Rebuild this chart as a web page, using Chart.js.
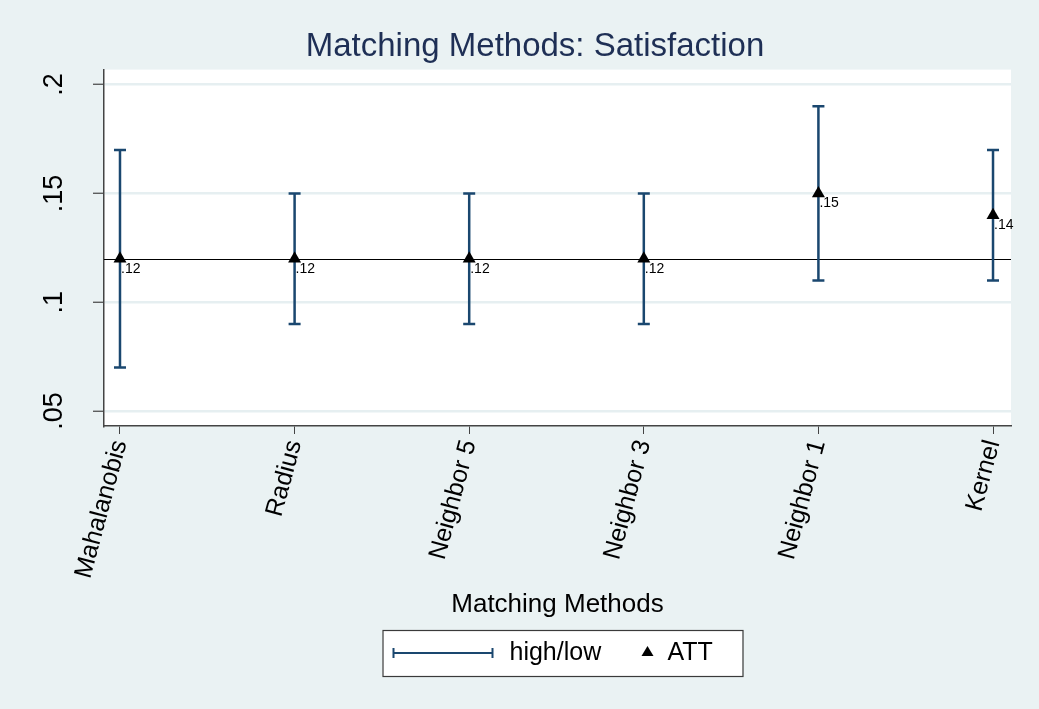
<!DOCTYPE html>
<html>
<head>
<meta charset="utf-8">
<script src="https://cdn.jsdelivr.net/npm/chart.js@4/dist/chart.umd.min.js"></script>
<style>
  html, body { margin: 0; padding: 0; background: #EAF2F3; }
  #wrap { width: 1039px; height: 709px; }
</style>
</head>
<body>
<div id="wrap"><canvas id="c" width="1039" height="709"></canvas></div>
<script>
// Matching methods and their estimates
const methods = ['Mahalanobis', 'Radius', 'Neighbor 5', 'Neighbor 3', 'Neighbor 1', 'Kernel'];
const att  = [0.12, 0.12, 0.12, 0.12, 0.15, 0.14];
const low  = [0.07, 0.09, 0.09, 0.09, 0.11, 0.11];
const high = [0.17, 0.15, 0.15, 0.15, 0.19, 0.17];
const yTickValues = [0.05, 0.10, 0.15, 0.20];
const refValue = 0.12;

const FONT = '"Liberation Sans", Arial, Helvetica, sans-serif';
const NAVY = '#1A476F';
const BG = '#EAF2F3';

// Stata-style decimal labels: .05, .1, .15 ...
const fmt = v => {
  const s = String(Math.round(v * 100) / 100);
  return s.startsWith('0.') ? s.slice(1) : s;
};

const decorPlugin = {
  id: 'decor',
  beforeDraw(chart) {
    const { ctx, chartArea: a } = chart;
    ctx.save();
    ctx.fillStyle = BG;
    ctx.fillRect(0, 0, chart.width, chart.height);
    ctx.fillStyle = '#FFFFFF';
    ctx.fillRect(a.left, a.top, a.right - a.left, a.bottom - a.top);
    ctx.restore();
  },
  beforeDatasetsDraw(chart) {
    const { ctx, chartArea: a, scales: { x, y } } = chart;
    ctx.save();
    // reference line at the common estimate
    const yr = Math.round(y.getPixelForValue(refValue)) + 0.5;
    ctx.strokeStyle = '#000';
    ctx.lineWidth = 1.2;
    ctx.beginPath();
    ctx.moveTo(a.left, yr);
    ctx.lineTo(a.right, yr);
    ctx.stroke();
    // high/low range bars with caps
    ctx.strokeStyle = NAVY;
    ctx.lineWidth = 2.5;
    const cap = 6;
    methods.forEach((m, i) => {
      const px = x.getPixelForValue(i);
      const pl = y.getPixelForValue(low[i]);
      const ph = y.getPixelForValue(high[i]);
      ctx.beginPath();
      ctx.moveTo(px, pl); ctx.lineTo(px, ph);
      ctx.moveTo(px - cap, pl); ctx.lineTo(px + cap, pl);
      ctx.moveTo(px - cap, ph); ctx.lineTo(px + cap, ph);
      ctx.stroke();
    });
    ctx.restore();
  },
  afterDraw(chart) {
    const { ctx, chartArea: a, scales: { x, y } } = chart;
    ctx.save();
    // marker value labels
    ctx.fillStyle = '#000';
    ctx.font = '14px ' + FONT;
    ctx.textAlign = 'left';
    ctx.textBaseline = 'middle';
    att.forEach((v, i) => {
      ctx.fillText(fmt(v), x.getPixelForValue(i) + 1, y.getPixelForValue(v) + 10);
    });
    // vertical y tick labels
    ctx.font = '27px ' + FONT;
    ctx.textAlign = 'center';
    ctx.textBaseline = 'middle';
    yTickValues.forEach(v => {
      ctx.save();
      ctx.translate(55, y.getPixelForValue(v));
      ctx.rotate(-Math.PI / 2);
      ctx.fillText(fmt(v), 0, 0);
      ctx.restore();
    });
    // legend box
    const cx = (a.left + a.right) / 2;
    const bx = cx - 175, by = 630, bw = 360, bh = 46;
    ctx.fillStyle = '#FFFFFF';
    ctx.fillRect(bx, by, bw, bh);
    ctx.strokeStyle = '#3A3A3A';
    ctx.lineWidth = 1.2;
    ctx.strokeRect(bx + 0.5, by + 0.5, bw, bh);
    const my = by + bh / 2;
    ctx.strokeStyle = NAVY;
    ctx.lineWidth = 2;
    ctx.beginPath();
    ctx.moveTo(bx + 11, my); ctx.lineTo(bx + 110, my);
    ctx.moveTo(bx + 11, my - 5); ctx.lineTo(bx + 11, my + 5);
    ctx.moveTo(bx + 110, my - 5); ctx.lineTo(bx + 110, my + 5);
    ctx.stroke();
    ctx.fillStyle = '#000';
    ctx.font = '25px ' + FONT;
    ctx.textAlign = 'left';
    ctx.textBaseline = 'middle';
    ctx.fillText('high/low', bx + 127, my);
    const tx = bx + 265;
    ctx.beginPath();
    ctx.moveTo(tx, my - 7);
    ctx.lineTo(tx + 6, my + 3);
    ctx.lineTo(tx - 6, my + 3);
    ctx.closePath();
    ctx.fill();
    ctx.fillText('ATT', bx + 285, my);
    ctx.restore();
  }
};

new Chart(document.getElementById('c'), {
  type: 'scatter',
  data: {
    datasets: [{
      label: 'ATT',
      data: att.map((v, i) => ({ x: i, y: v })),
      pointStyle: 'triangle',
      pointRadius: 7.5,
      pointHoverRadius: 7.5,
      backgroundColor: '#000',
      borderColor: '#000',
      borderWidth: 0
    }]
  },
  options: {
    responsive: false,
    animation: false,
    devicePixelRatio: 1,
    layout: { padding: { left: 59, right: 28, top: 0, bottom: 89 } },
    plugins: {
      legend: { display: false },
      tooltip: { enabled: false },
      title: {
        display: true,
        text: 'Matching Methods: Satisfaction',
        color: '#1E2F55',
        font: { family: FONT, size: 33, weight: 'normal' },
        padding: { top: 27, bottom: 3 }
      }
    },
    scales: {
      x: {
        type: 'linear',
        min: -0.0916,
        max: 5.103,
        afterBuildTicks: s => { s.ticks = methods.map((m, i) => ({ value: i })); },
        afterFit: s => { s.height = 194; },
        ticks: {
          autoSkip: false,
          minRotation: 75,
          maxRotation: 75,
          padding: 3,
          color: '#000',
          font: { family: FONT, size: 25 },
          callback: v => methods[v]
        },
        grid: { drawOnChartArea: false, drawTicks: true, tickLength: 8, color: '#444', lineWidth: 1 },
        border: { display: true, color: '#444', width: 1.5 },
        title: {
          display: true,
          text: 'Matching Methods',
          color: '#000',
          font: { family: FONT, size: 26 },
          padding: { top: 0, bottom: 0 }
        }
      },
      y: {
        min: 0.0431,
        max: 0.2069,
        afterBuildTicks: s => { s.ticks = yTickValues.map(v => ({ value: v })); },
        afterFit: s => { s.width = 45; },
        ticks: { display: false },
        grid: { color: '#E6EFF1', lineWidth: 2.5, drawTicks: true, tickLength: 11, tickColor: '#444', tickWidth: 1.2 },
        border: { display: true, color: '#444', width: 1.5 }
      }
    }
  },
  plugins: [decorPlugin]
});
</script>
</body>
</html>
